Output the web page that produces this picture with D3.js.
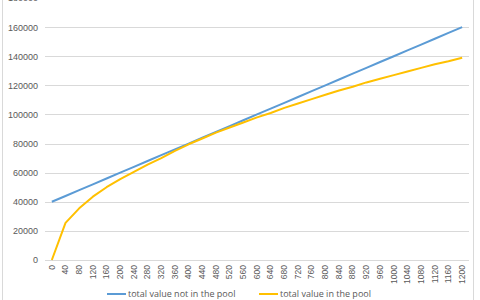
<!DOCTYPE html>
<html>
<head>
<meta charset="utf-8">
<script src="https://cdn.jsdelivr.net/npm/d3@7/dist/d3.min.js"></script>
<style>
  body { margin: 0; background: #fff; }
  svg { display: block; font-family: "Open Sans", "Noto Sans", sans-serif; }
</style>
</head>
<body>
<div id="chart"></div>
<script>
var categories = ["0","40","80","120","160","200","240","280","320","360","400","440","480","520","560","600",
    "640","680","720","760","800","840","880","920","960","1000","1040","1080","1120","1160","1200"];
var notInPool = [40000,44000,48000,52000,56000,60000,64000,68000,72000,76000,80000,84000,88000,92000,96000,100000,
    104000,108000,112000,116000,120000,124000,128000,132000,136000,140000,144000,148000,152000,156000,160000];
var inPool = [0,25500,35500,43500,50000,55500,60500,65500,70000,75000,79500,83500,87500,91000,94500,98000,
    101000,104500,107500,110500,113500,116500,119000,122000,124500,127000,129500,132000,134500,136500,139000];
var yTicks = [0,20000,40000,60000,80000,100000,120000,140000,160000,180000];
var seriesNames = ["total value not in the pool", "total value in the pool"];
var seriesColors = ["#5b9bd5", "#ffc000"];

function makeLineChart() {
    var width = 480, height = 300;
    var svg = d3.select("#chart").append("svg")
        .attr("width", width)
        .attr("height", height);

    // chart border
    svg.append("rect")
        .attr("x", 2.5).attr("y", -2)
        .attr("width", 471).attr("height", 320)
        .attr("fill", "none")
        .attr("stroke", "#d9d9d9");

    var xScale = d3.scaleBand().domain(categories).range([45, 469]);
    var yScale = d3.scaleLinear().domain([0, 180000]).range([260, -2]);

    // gridlines
    svg.append("g")
        .selectAll("line")
        .data(yTicks)
        .enter().append("line")
        .attr("x1", 45).attr("x2", 469)
        .attr("y1", function(d) { return Math.round(yScale(d)) + 0.5; })
        .attr("y2", function(d) { return Math.round(yScale(d)) + 0.5; })
        .attr("stroke", "#d9d9d9")
        .attr("stroke-width", 1);

    var yAxis = d3.axisLeft(yScale).tickValues(yTicks).tickFormat(d3.format("d")).tickSize(0).tickPadding(0);
    var gy = svg.append("g")
        .attr("transform", "translate(38,0)")
        .call(yAxis);
    gy.select(".domain").remove();
    gy.selectAll("text").attr("fill", "#595959").style("font-size", "9px");

    var xAxis = d3.axisBottom(xScale).tickSize(0).tickPadding(0);
    var gx = svg.append("g")
        .attr("transform", "translate(0,265)")
        .call(xAxis);
    gx.select(".domain").remove();
    gx.selectAll("text")
        .attr("fill", "#595959")
        .style("font-size", "8.5px")
        .attr("transform", "rotate(-90)")
        .attr("x", 0).attr("y", 0).attr("dy", "0.32em")
        .style("text-anchor", "end");

    var line = d3.line()
        .x(function(d, i) { return xScale(categories[i]) + xScale.bandwidth() / 2; })
        .y(function(d) { return yScale(d); });

    [notInPool, inPool].forEach(function(s, i) {
        svg.append("path")
            .datum(s)
            .attr("fill", "none")
            .attr("stroke", seriesColors[i])
            .attr("stroke-width", 2)
            .attr("stroke-linejoin", "round")
            .attr("d", line);
    });

    // legend
    var legendX = [107, 259];
    seriesNames.forEach(function(name, i) {
        var g = svg.append("g").attr("transform", "translate(" + legendX[i] + ",294)");
        g.append("line")
            .attr("x1", 0).attr("x2", 19)
            .attr("stroke", seriesColors[i]).attr("stroke-width", 2);
        g.append("text")
            .attr("x", 21).attr("y", 0).attr("dy", "0.32em")
            .attr("fill", "#595959")
            .style("font-size", "9px")
            .text(name);
    });
}

makeLineChart();
</script>
</body>
</html>
